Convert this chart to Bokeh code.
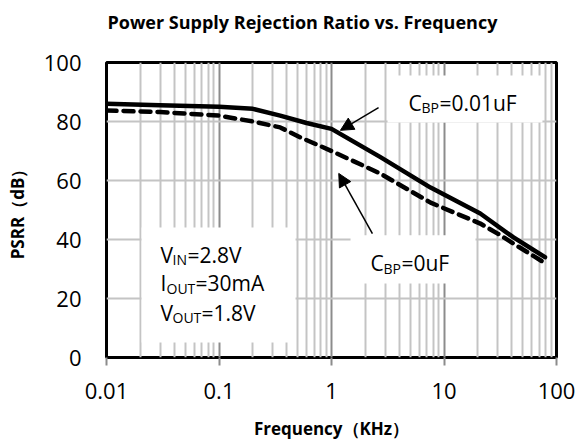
from bokeh.plotting import figure
from bokeh.layouts import column
from bokeh.models import FixedTicker, Label, Arrow, NormalHead
from bokeh.core.properties import value
from bokeh.embed import file_html
from bokeh.resources import INLINE

# ---- data ----
freq_solid = [0.01, 0.03, 0.1, 0.2, 0.35, 0.6, 1.0, 2.7, 7.6, 21.0, 41.5, 79.0]
psrr_solid = [86.0, 85.5, 85.0, 84.3, 82.0, 79.5, 77.5, 68.0, 57.6, 48.8, 40.7, 34.0]

freq_dash = [0.01, 0.03, 0.1, 0.2, 0.35, 0.53, 1.0, 2.7, 7.6, 21.0, 30.0, 41.5, 79.0]
psrr_dash = [83.7, 83.2, 82.0, 80.0, 78.0, 74.6, 70.0, 62.4, 52.5, 45.4, 42.0, 38.6, 32.0]

x_ticks = [0.01, 0.1, 1, 10, 100]
x_tick_labels = ["0.01", "0.1", "1", "10", "100"]
y_ticks = [0, 20, 40, 60, 80, 100]

TITLE = "Power Supply Rejection Ratio vs. Frequency"
FONT = "Open Sans"
W = 576
TITLE_H = 40
FRAME_W = 450  # the strip's frame is aligned with the chart's frame

# ---- title strip ----
t = figure(width=W, height=TITLE_H, x_range=(0, FRAME_W), y_range=(0, TITLE_H),
           output_backend="svg", toolbar_location=None, min_border=0,
           x_axis_location=None, y_axis_location=None)
t.grid.visible = False
t.outline_line_color = None
t.text(x=[1], y=[19], text=[TITLE], text_font=value(FONT),
       text_font_style="bold", text_font_size="18px", text_color="black",
       text_align="left", text_baseline="alphabetic")

# ---- main chart ----
p = figure(width=W, height=443 - TITLE_H, x_axis_type="log",
           x_range=(0.01, 100), y_range=(0, 100),
           output_backend="svg", toolbar_location=None,
           min_border_left=106, min_border_right=W - 106 - FRAME_W,
           min_border_top=62 - TITLE_H, min_border_bottom=86)
p.background_fill_color = "white"
p.border_fill_color = "white"
p.outline_line_color = "black"
p.outline_line_width = 3

minor = [m * d for d in [0.01, 0.1, 1, 10] for m in range(2, 10)]
p.xaxis.ticker = FixedTicker(ticks=x_ticks, minor_ticks=minor)
p.yaxis.ticker = FixedTicker(ticks=y_ticks)
p.xaxis.major_label_overrides = {tk: lb for tk, lb in zip(x_ticks, x_tick_labels)}

for ax in (p.xaxis, p.yaxis):
    ax.axis_line_color = None
    ax.minor_tick_line_color = None
    ax.major_label_text_font = FONT
    ax.major_label_text_font_size = "22px"
    ax.major_label_text_color = "black"
    ax.axis_label_text_font = FONT
    ax.axis_label_text_font_style = "bold"
    ax.axis_label_text_font_size = "17px"
    ax.axis_label_text_color = "black"

p.xaxis.major_tick_in = 0
p.xaxis.major_tick_out = 8
p.xaxis.major_tick_line_color = "#8c8c8c"
p.xaxis.major_tick_line_width = 2
p.xaxis.major_label_standoff = 17
p.xaxis.axis_label = "Frequency（KHz）"
p.xaxis.axis_label_standoff = 15

p.yaxis.major_tick_line_color = None
p.yaxis.major_tick_in = 0
p.yaxis.major_tick_out = 0
p.yaxis.major_label_standoff = 25
p.yaxis.axis_label = "PSRR（dB）"
p.yaxis.axis_label_standoff = 12

p.xgrid.grid_line_color = "#8c8c8c"
p.xgrid.grid_line_width = 2
p.xgrid.minor_grid_line_color = "#c4c4c4"
p.xgrid.minor_grid_line_width = 2
p.ygrid.grid_line_color = "#c4c4c4"
p.ygrid.grid_line_width = 2

# white annotation boxes (cover the grid)
p.quad(left=[0.0205, 3.15, 1.476], right=[0.479, 75.0, 19.05],
       bottom=[5.1, 79.7, 25.1], top=[44.1, 95.6, 41.4],
       fill_color="white", line_color=None)

p.line(freq_solid, psrr_solid, line_color="black", line_width=4.5,
       line_join="round", line_cap="round")
p.line(freq_dash, psrr_dash, line_color="black", line_width=4.5,
       line_dash="10 7", line_join="round", line_cap="round")

# arrows
p.add_layout(Arrow(end=NormalHead(size=13, fill_color="black", line_color="black"),
                   x_start=2.62, y_start=84.7, x_end=1.2, y_end=77.0,
                   line_width=1.5, line_color="black"))
p.add_layout(Arrow(end=NormalHead(size=13, fill_color="black", line_color="black"),
                   x_start=2.31, y_start=42.0, x_end=1.16, y_end=62.4,
                   line_width=1.5, line_color="black"))

MAIN = "21px"
SUB = "14px"
DY = 8

def piece(x, y, dx, dy, text, size):
    p.add_layout(Label(x=x, y=y, x_offset=dx, y_offset=dy + DY, text=text,
                       text_font=FONT, text_font_size=size, text_color="black",
                       text_align="left", text_baseline="alphabetic"))

# left conditions box (anchor at text left edge)
ax0 = 0.0302
piece(ax0, 32.2, 0, 0, "V", MAIN)
piece(ax0, 32.2, 12, -5, "IN", SUB)
piece(ax0, 32.2, 27, 0, "=2.8V", MAIN)
piece(ax0, 22.4, 0, 0, "I", MAIN)
piece(ax0, 22.4, 6, -5, "OUT", SUB)
piece(ax0, 22.4, 35, 0, "=30mA", MAIN)
piece(ax0, 12.5, 0, 0, "V", MAIN)
piece(ax0, 12.5, 12, -5, "OUT", SUB)
piece(ax0, 12.5, 41, 0, "=1.8V", MAIN)

# C_BP = 0.01uF
ax1 = 4.83
piece(ax1, 83.7, 0, 0, "C", MAIN)
piece(ax1, 83.7, 13, -5, "BP", SUB)
piece(ax1, 83.7, 31, 0, "=0.01uF", MAIN)

# C_BP = 0uF
ax2 = 2.22
piece(ax2, 29.2, 0, 0, "C", MAIN)
piece(ax2, 29.2, 13, -5, "BP", SUB)
piece(ax2, 29.2, 31, 0, "=0uF", MAIN)

layout = column(t, p, spacing=0)
open("out.html", "w").write(file_html(layout, INLINE))
